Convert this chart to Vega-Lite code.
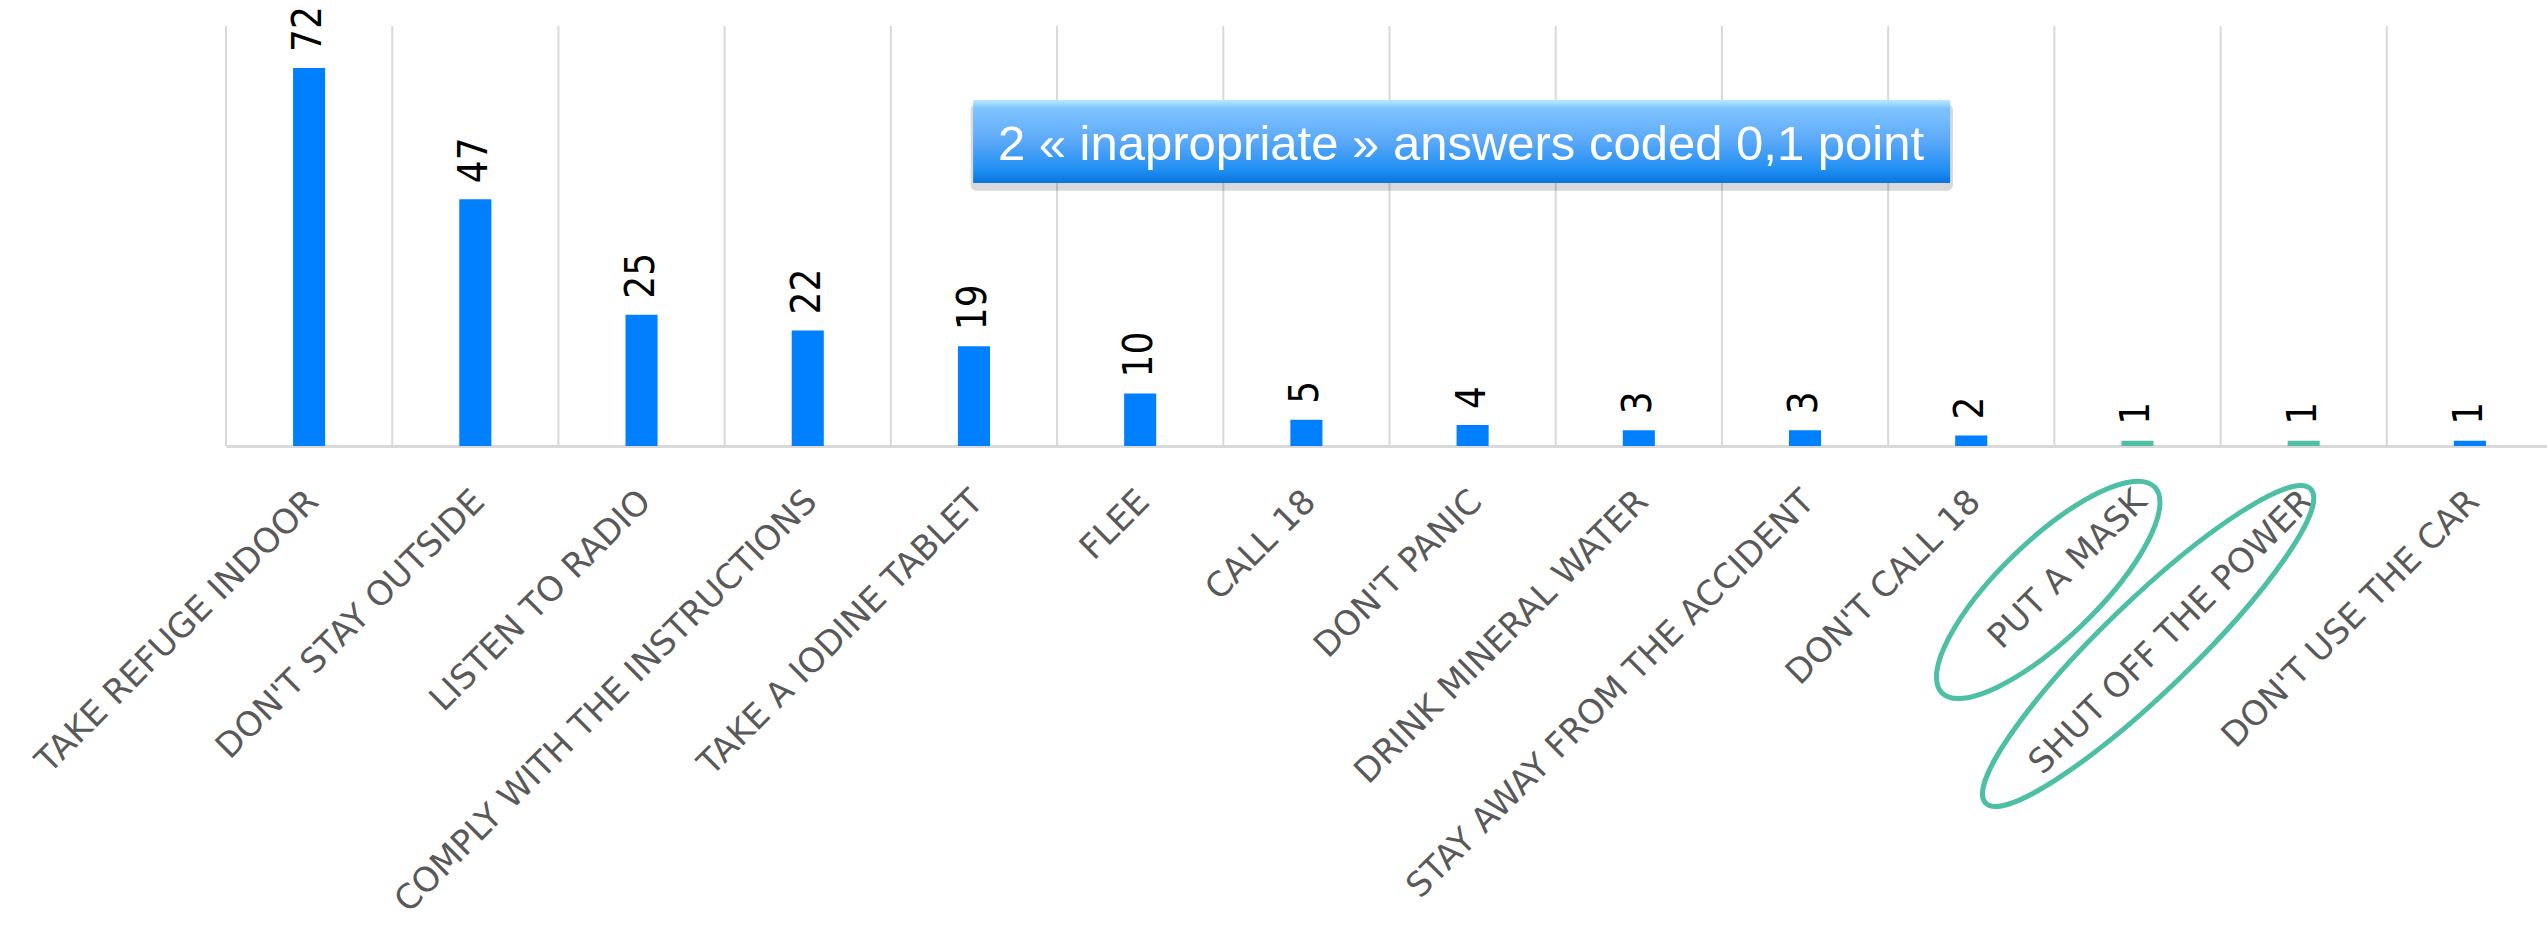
{
  "$schema": "https://vega.github.io/schema/vega-lite/v6.json",
  "width": 2327,
  "height": 420,
  "autosize": {"type": "none"},
  "padding": {"left": 226, "top": 26, "right": 0, "bottom": 484},
  "background": "white",
  "config": {"view": {"stroke": null}},
  "datasets": {
    "answers": [
      {"answer": "TAKE REFUGE INDOOR", "count": 72, "kind": "appropriate"},
      {"answer": "DON'T STAY OUTSIDE", "count": 47, "kind": "appropriate"},
      {"answer": "LISTEN TO RADIO", "count": 25, "kind": "appropriate"},
      {"answer": "COMPLY WITH THE INSTRUCTIONS", "count": 22, "kind": "appropriate"},
      {"answer": "TAKE A IODINE TABLET", "count": 19, "kind": "appropriate"},
      {"answer": "FLEE", "count": 10, "kind": "appropriate"},
      {"answer": "CALL 18", "count": 5, "kind": "appropriate"},
      {"answer": "DON'T PANIC", "count": 4, "kind": "appropriate"},
      {"answer": "DRINK MINERAL WATER", "count": 3, "kind": "appropriate"},
      {"answer": "STAY AWAY  FROM THE ACCIDENT", "count": 3, "kind": "appropriate"},
      {"answer": "DON'T CALL 18", "count": 2, "kind": "appropriate"},
      {"answer": "PUT A MASK", "count": 1, "kind": "inappropriate"},
      {"answer": "SHUT OFF THE POWER", "count": 1, "kind": "inappropriate"},
      {"answer": "DON'T USE THE CAR", "count": 1, "kind": "appropriate"}
    ],
    "note": [
      {"x1": 4.495, "x2": 10.373, "y1": 65.9, "y2": 50.1, "tx": 7.43, "ty": 54.5, "label": "2 « inapropriate » answers coded 0,1 point"}
    ],
    "shadow": [
      {"x1": 4.48, "x2": 10.39, "y1": 65.2, "y2": 48.6}
    ],
    "rings": [
      {"id": "mask", "cx": 10.963, "cy": -27.4},
      {"id": "power", "cx": 11.564, "cy": -38.1}
    ]
  },
  "layer": [
    {
      "data": {"name": "answers"},
      "layer": [
        {
          "mark": {"type": "rule", "color": "#d9d9d9", "strokeWidth": 2},
          "encoding": {
            "x": {"field": "answer", "type": "nominal", "sort": null, "bandPosition": 0,
              "scale": {"paddingInner": 0, "paddingOuter": 0},
              "axis": {"title": null, "labelAngle": -45, "labelAlign": "right", "labelBaseline": "top", "labelPadding": 38, "labelOffset": -8, "ticks": false, "tickSize": 0, "domainColor": "#d9d9d9", "domainWidth": 3, "labelFont": "DejaVu Sans", "labelFontSize": 34, "labelColor": "#595959", "labelLimit": 1000, "grid": false}}
          }
        },
        {
          "mark": {"type": "bar", "width": {"band": 0.193}},
          "encoding": {
            "x": {"field": "answer", "type": "nominal", "sort": null,
              "scale": {"paddingInner": 0, "paddingOuter": 0},
              "axis": {"title": null, "labelAngle": -45, "labelAlign": "right", "labelBaseline": "top", "labelPadding": 38, "labelOffset": -8, "ticks": false, "tickSize": 0, "domainColor": "#d9d9d9", "domainWidth": 3, "labelFont": "DejaVu Sans", "labelFontSize": 34, "labelColor": "#595959", "labelLimit": 1000, "grid": false}},
            "y": {"field": "count", "type": "quantitative", "scale": {"domain": [0, 80], "nice": false}, "axis": null},
            "color": {"field": "kind", "type": "nominal", "scale": {"domain": ["appropriate", "inappropriate"], "range": ["#0080FF", "#52BFA4"]}, "legend": null}
          }
        },
        {
          "mark": {"type": "text", "angle": 270, "align": "left", "baseline": "middle", "dx": 16, "font": "DejaVu Sans Condensed", "fontSize": 40, "color": "#000000"},
          "encoding": {
            "x": {"field": "answer", "type": "nominal", "sort": null,
              "scale": {"paddingInner": 0, "paddingOuter": 0},
              "axis": {"title": null, "labelAngle": -45, "labelAlign": "right", "labelBaseline": "top", "labelPadding": 38, "labelOffset": -8, "ticks": false, "tickSize": 0, "domainColor": "#d9d9d9", "domainWidth": 3, "labelFont": "DejaVu Sans", "labelFontSize": 34, "labelColor": "#595959", "labelLimit": 1000, "grid": false}},
            "y": {"field": "count", "type": "quantitative", "scale": {"domain": [0, 80], "nice": false}, "axis": null},
            "text": {"field": "count", "type": "quantitative"}
          }
        }
      ]
    },
    {
      "layer": [
        {
          "data": {"name": "shadow"},
          "mark": {"type": "rect", "color": "#000000", "opacity": 0.15, "cornerRadius": 6},
          "encoding": {
            "x": {"field": "x1", "type": "quantitative", "scale": {"domain": [0, 14], "nice": false, "zero": false}, "axis": null},
            "x2": {"field": "x2"},
            "y": {"field": "y1", "type": "quantitative", "scale": {"domain": [0, 80], "nice": false}, "axis": null},
            "y2": {"field": "y2"}
          }
        },
        {
          "data": {"name": "note"},
          "mark": {"type": "rect", "color": {"gradient": "linear", "x1": 0, "y1": 0, "x2": 0, "y2": 1, "stops": [
            {"offset": 0, "color": "#B8E8FF"},
            {"offset": 0.1, "color": "#80C4FF"},
            {"offset": 0.5, "color": "#5AA8F8"},
            {"offset": 0.85, "color": "#1E8EF2"},
            {"offset": 1, "color": "#0A74DA"}
          ]}},
          "encoding": {
            "x": {"field": "x1", "type": "quantitative", "scale": {"domain": [0, 14], "nice": false, "zero": false}, "axis": null},
            "x2": {"field": "x2"},
            "y": {"field": "y1", "type": "quantitative", "scale": {"domain": [0, 80], "nice": false}, "axis": null},
            "y2": {"field": "y2"}
          }
        },
        {
          "data": {"name": "note"},
          "mark": {"type": "text", "font": "Liberation Sans", "fontSize": 49, "color": "#FFFFFF", "align": "center", "baseline": "alphabetic"},
          "encoding": {
            "x": {"field": "tx", "type": "quantitative", "scale": {"domain": [0, 14], "nice": false, "zero": false}, "axis": null},
            "y": {"field": "ty", "type": "quantitative", "scale": {"domain": [0, 80], "nice": false}, "axis": null},
            "text": {"field": "label", "type": "nominal"}
          }
        },
        {
          "data": {"name": "rings"},
          "transform": [{"filter": "datum.id === 'mask'"}],
          "mark": {"type": "point", "filled": false, "stroke": "#4CBFA5", "strokeWidth": 5, "opacity": 1, "angle": -44, "size": 87616,
            "shape": "M -1 0 C -1 -0.1823 -0.5523 -0.33 0 -0.33 C 0.5523 -0.33 1 -0.1823 1 0 C 1 0.1823 0.5523 0.33 0 0.33 C -0.5523 0.33 -1 0.1823 -1 0 Z"},
          "encoding": {
            "x": {"field": "cx", "type": "quantitative", "scale": {"domain": [0, 14], "nice": false, "zero": false}, "axis": null},
            "y": {"field": "cy", "type": "quantitative", "scale": {"domain": [0, 80], "nice": false}, "axis": null}
          }
        },
        {
          "data": {"name": "rings"},
          "transform": [{"filter": "datum.id === 'power'"}],
          "mark": {"type": "point", "filled": false, "stroke": "#4CBFA5", "strokeWidth": 5, "opacity": 1, "angle": -44, "size": 204304,
            "shape": "M -1 0 C -1 -0.1105 -0.5523 -0.2 0 -0.2 C 0.5523 -0.2 1 -0.1105 1 0 C 1 0.1105 0.5523 0.2 0 0.2 C -0.5523 0.2 -1 0.1105 -1 0 Z"},
          "encoding": {
            "x": {"field": "cx", "type": "quantitative", "scale": {"domain": [0, 14], "nice": false, "zero": false}, "axis": null},
            "y": {"field": "cy", "type": "quantitative", "scale": {"domain": [0, 80], "nice": false}, "axis": null}
          }
        }
      ]
    }
  ],
  "resolve": {"scale": {"x": "independent"}}
}
